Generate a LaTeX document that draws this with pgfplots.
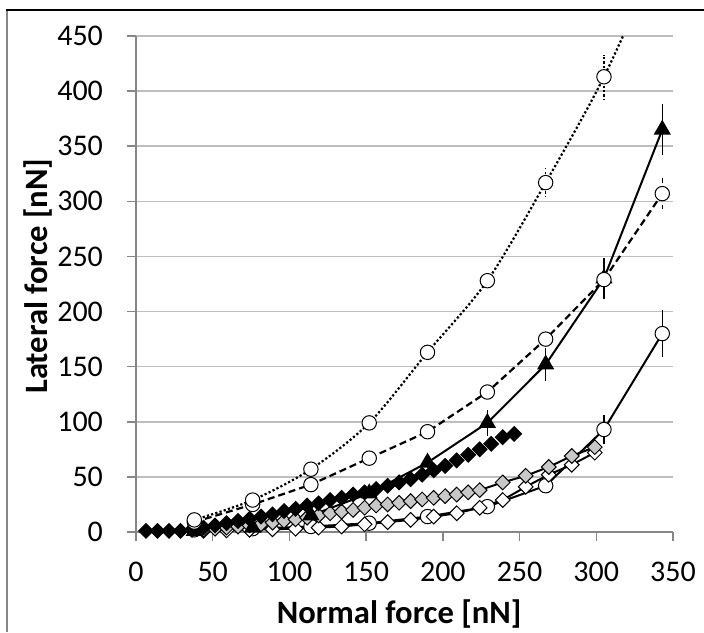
\documentclass[border=0pt]{standalone}
\usepackage{fontspec}
\setmainfont{Carlito}
\usepackage{pgfplots}
\pgfplotsset{compat=1.18}

\definecolor{gridgray}{RGB}{190,190,190}
\definecolor{axisgray}{RGB}{134,134,134}
\definecolor{diagray}{RGB}{200,200,200}

\pgfplotsset{
  errs/.style={error bars/.cd, y dir=both, y explicit, error mark=none,
    error bar style={black, line width=0.6pt}},
}

\begin{document}
\begin{tikzpicture}[x=1pt, y=1pt, font=\fontsize{15}{18}\selectfont]
\useasboundingbox (0,0) rectangle (352,316);
\draw[axisgray, line width=0.6pt] (3.5,0) -- (3.5,311);
\draw[black, line width=0.6pt] (3.2,311) -- (352,311);

\begin{axis}[
    at={(68pt,50pt)}, anchor=south west,
    scale only axis, width=268.5pt, height=248pt,
    xmin=0, xmax=350, ymin=0, ymax=450,
    xtick={0,50,...,350}, ytick={0,50,...,450},
    axis x line*=bottom, axis y line*=left,
    xtick pos=left, ytick pos=left,
    axis line style={axisgray, line width=0.75pt},
    tick align=outside, major tick length=4.5pt,
    tick style={axisgray, line width=0.75pt},
    ymajorgrids, grid style={gridgray, line width=0.75pt},
    /pgf/number format/assume math mode=true,
    yticklabel style={xshift=-8.5pt},
    xticklabel style={yshift=-7pt},
    xlabel={\textbf{Normal force [nN]}},
    ylabel={\textbf{Lateral force [nN]}},
    label style={font=\fontsize{16.3}{19}\selectfont},
    xlabel style={at={(axis description cs:0.49,-0.166)}, anchor=center},
    ylabel style={at={(axis description cs:-0.1825,0.516)}, anchor=center},
]

% open circles, solid line (lowest)
\addplot[black, line width=1pt, mark=*, mark size=3.6pt,
  mark options={fill=white, line width=0.5pt, solid}, errs]
  table[x=x, y=y, y error=e] {
x y e
38 2 0
76 3 0
114 5 0
152 8 0
190 14 0
229 23 0
267 42 0
305 93 13
343 180 21
};

% white diamonds, solid line
\addplot[black, line width=1pt, mark=square*, mark size=2.6pt,
  mark options={rotate=45, fill=white, draw=black, line width=0.5pt, solid}]
  coordinates {(44,1) (59,1.5) (74,2) (89,2.5) (104,3) (119,4) (134,5)
  (149,7) (164,9) (179,11) (194,14) (209,17) (224,22) (239,29) (254,41)
  (269,52) (284,61) (299,72)};

% grey diamonds, solid line
\addplot[black, line width=1pt, mark=square*, mark size=2.6pt,
  mark options={rotate=45, fill=diagray, draw=black, line width=0.5pt, solid}]
  coordinates {(44,2) (51.5,3) (59,4) (66.5,5) (74,6) (81.5,7) (89,8.5)
  (96.5,10) (104,11.5) (111.5,13) (119,15) (126.5,17) (134,18.5)
  (141.5,20) (149,22) (156.5,24) (164,25) (171.5,26.5) (179,28)
  (186.5,29.5) (194,31) (201.5,32.5) (209,34) (216.5,36) (224,38)
  (239,45) (254,51) (269,59) (284,69) (299,77)};

% black diamonds, no line
\addplot[only marks, mark=square*, mark size=2.6pt,
  mark options={rotate=45, fill=black, draw=black, line width=0.5pt}]
  coordinates {(6.5,1) (14,1) (21.5,1) (29,1) (36.5,2) (44,4) (51.5,6)
  (59,8) (66.5,10) (74,12) (81.5,14) (89,16) (96.5,19) (104,21)
  (111.5,24) (119,26) (126.5,29) (134,31) (141.5,34) (149,36)
  (156.5,39) (164,42) (171.5,45) (179,48) (186.5,52) (194,56)
  (201.5,60) (209,65) (216.5,70) (224,75) (231.5,80) (239,86) (246.5,89)};

% black triangles, solid line
\addplot[black, line width=1pt, mark=triangle*, mark size=4pt,
  mark options={fill=black, solid}, errs]
  table[x=x, y=y, y error=e] {
x y e
38 1 0
76 4 0
114 15 0
152 35 0
190 63 5
229 99 12
267 152 15
305 230 19
343 365 23
};

% open circles, dashed line
\addplot[black, line width=1.1pt, dash pattern=on 3.5pt off 2pt, mark=*,
  mark size=3.6pt, mark options={fill=white, line width=0.5pt, solid}, errs]
  table[x=x, y=y, y error=e] {
x y e
38 9 0
76 25 0
114 43 0
152 67 0
190 91 0
229 127 4
267 175 8
305 229 10
343 307 14
};

% open circles, dotted line
\addplot[black, line width=1.1pt, dash pattern=on 1.1pt off 1.1pt, smooth,
  mark=*, mark size=3.6pt, mark options={fill=white, line width=0.5pt, solid}, errs]
  table[x=x, y=y, y error=e] {
x y e
38 11 0
76 29 0
114 57 0
152 99 0
190 163 4
229 228 5
267 317 13
305 413 20
343 530 25
};

\end{axis}
\end{tikzpicture}
\end{document}
